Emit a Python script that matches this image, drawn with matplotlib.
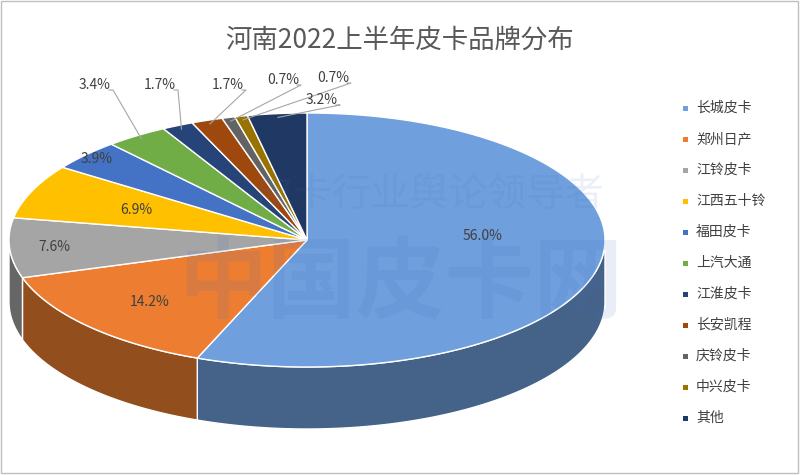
import numpy as np
import matplotlib.pyplot as plt
from matplotlib import font_manager as fm
from matplotlib.patches import Polygon, Rectangle
import matplotlib.colors as mcolors

cjk = [f.name for f in fm.fontManager.ttflist if "CJK" in f.name]
plt.rcParams["font.family"] = (["Noto Sans CJK SC"] if "Noto Sans CJK SC" in cjk else cjk[:1]) + ["DejaVu Sans"]

brands = ["长城皮卡", "郑州日产", "江铃皮卡", "江西五十铃", "福田皮卡", "上汽大通",
          "江淮皮卡", "长安凯程", "庆铃皮卡", "中兴皮卡", "其他"]
shares = [56.0, 14.2, 7.6, 6.9, 3.9, 3.4, 1.7, 1.7, 0.7, 0.7, 3.2]
colors = ["#6f9fdc", "#ed7d31", "#a5a5a5", "#ffc000", "#4472c4", "#70ad47",
          "#264478", "#9e480e", "#636363", "#997300", "#1f3864"]

# outside label positions for the small slices (pixel coords)
outside = {5: (95, 85), 6: (160, 85), 7: (228, 85), 8: (283, 80), 9: (333, 78), 10: (322, 100)}

fig = plt.figure(figsize=(8, 4.75), dpi=100)
ax = fig.add_axes([0, 0, 1, 1])
ax.set_xlim(0, 800)
ax.set_ylim(475, 0)
ax.axis("off")
ax.add_patch(Rectangle((1, 1), 797, 472, fill=False, ec="#bfbfbf", lw=1))

cx, cy, rx, ry, depth = 307, 240, 298, 127, 62


def pt(th, r=1.0, dy=0.0):
    return cx + r * rx * np.cos(th), cy - r * ry * np.sin(th) + dy


def darker(c, f=0.62):
    return tuple(np.array(mcolors.to_rgb(c)) * f)


total = sum(shares)
bounds = [np.pi / 2]
for s in shares:
    bounds.append(bounds[-1] - 2 * np.pi * s / total)

# side walls (front half only)
for i in range(len(shares)):
    a0, a1 = bounds[i], bounds[i + 1]
    lo, hi = min(a0, a1), max(a0, a1)
    for base in (-2 * np.pi, 0):
        s0, s1 = max(lo, base - np.pi), min(hi, base)
        if s1 > s0:
            th = np.linspace(s0, s1, 80)
            top = [pt(t) for t in th]
            bot = [pt(t, dy=depth) for t in th[::-1]]
            ax.add_patch(Polygon(top + bot, closed=True, fc=darker(colors[i]), ec="white", lw=1))

# top faces
for i in range(len(shares)):
    th = np.linspace(bounds[i], bounds[i + 1], 120)
    verts = [(cx, cy)] + [pt(t) for t in th]
    ax.add_patch(Polygon(verts, closed=True, fc=colors[i], ec="white", lw=1))

# watermark
ax.text(400, 285, "中国皮卡网", fontsize=64, color="#4472c4", alpha=0.12,
        ha="center", va="center", fontweight="bold")
ax.text(430, 195, "皮卡行业舆论领导者", fontsize=28, color="#4472c4", alpha=0.1,
        ha="center", va="center", style="italic")

# labels
inside_r = {0: 0.6, 1: 0.72, 2: 0.85, 3: 0.62, 4: 0.95}
for i, s in enumerate(shares):
    mid = (bounds[i] + bounds[i + 1]) / 2
    txt = f"{s:.1f}%"
    if i in outside:
        lx, ly = outside[i]
        ex, ey = pt(mid, 0.97)
        ax.plot([lx + 14, lx + 18, ex], [ly + 5, ly + 5, ey], color="#a6a6a6", lw=0.8)
        ax.text(lx, ly, txt, fontsize=10, color="#404040", ha="center", va="center")
    else:
        x, y = pt(mid, inside_r[i])
        ax.text(x, y - (18 if i == 0 else 0), txt, fontsize=10, color="#404040", ha="center", va="center")

ax.text(400, 40, "河南2022上半年皮卡品牌分布", fontsize=19, color="#595959",
        ha="center", va="center")

for i, b in enumerate(brands):
    y = 108 + i * 31
    ax.add_patch(Rectangle((683, y - 2.5), 5, 5, fc=colors[i], ec="none"))
    ax.text(696, y, b, fontsize=10, color="#404040", va="center")

fig.savefig("out.png", dpi=100, facecolor="white")
